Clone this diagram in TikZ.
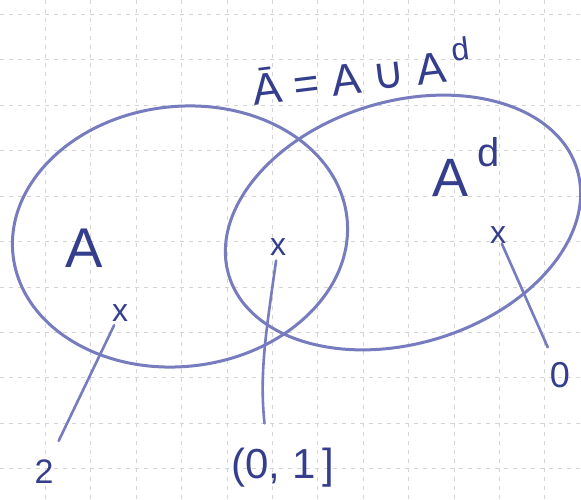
\documentclass[tikz,border=0pt]{standalone}
\usepackage{fontspec}
\usepackage{tikz}
\usetikzlibrary{positioning}
\newfontfamily\handfont{Liberation Sans}
\newfontfamily\symbfont{DejaVu Sans}
\definecolor{penline}{RGB}{118,124,190}
\definecolor{penink}{RGB}{52,62,140}
\definecolor{gridgray}{RGB}{212,212,212}

\begin{document}
\begin{tikzpicture}[x=1pt, y=1pt, every node/.style={inner sep=1pt, text=penink},
  ring/.style={draw=penline, line width=3pt},
  link/.style={draw=penline, line width=2.6pt, line cap=round},
  ptmark/.style={font=\fontsize{32}{32}\selectfont\handfont, inner sep=0pt},
  hand/.style={font=\fontsize{#1}{#1}\selectfont\handfont},
  paper/.style={draw=gridgray, line width=0.8pt, dash pattern=on 4pt off 5pt}]
\useasboundingbox (0,0) rectangle (581,499);
\fill[white] (0,0) rectangle (581,499);
% squared paper
\foreach \k in {1,...,12} \draw[paper] (45.4*\k,0) -- (45.4*\k,499);
\foreach \k in {0,...,10} \draw[paper] (0,484.5-45.4*\k) -- (581,484.5-45.4*\k);

% the two sets
\draw[ring, rotate around={6.5:(180,262.5)}] (180,262.5) ellipse [x radius=168, y radius=130];
\draw[ring, rotate around={17:(403,276.5)}] (403,276.5) ellipse [x radius=182, y radius=121];

\node[hand=44, rotate=7] (title) at (361,428) {Ā = A {\symbfont ∪} A\,\raisebox{0.45em}{\fontsize{32}{32}\selectfont d}};
\node[hand=56] (setA) at (84,251) {A};
\node[hand=54] (setAd) at (466,332) {A\,\raisebox{0.55em}{\fontsize{40}{40}\selectfont d}};

% points and their labels
\node[ptmark] (xtwo) at (120,186) {x};
\node[ptmark] (xhalf) at (278,252) {x};
\node[ptmark] (xzero) at (498,264) {x};
\node[hand=34] (ltwo) at (44,27) {2};
\node[hand=42] (lhalf) at (283,31) {(0,\ 1\,]};
\node[hand=36] (lzero) at (560,124) {0};

\draw[link, shorten <=4pt, shorten >=20pt] (xtwo) -- ([xshift=6pt]ltwo.north);
\draw[link, shorten <=5pt, shorten >=24pt] (xhalf) to[out=-98, in=96] ([xshift=-16pt]lhalf.north);
\draw[link, shorten >=15pt] (xzero) -- (lzero);
\end{tikzpicture}
\end{document}
